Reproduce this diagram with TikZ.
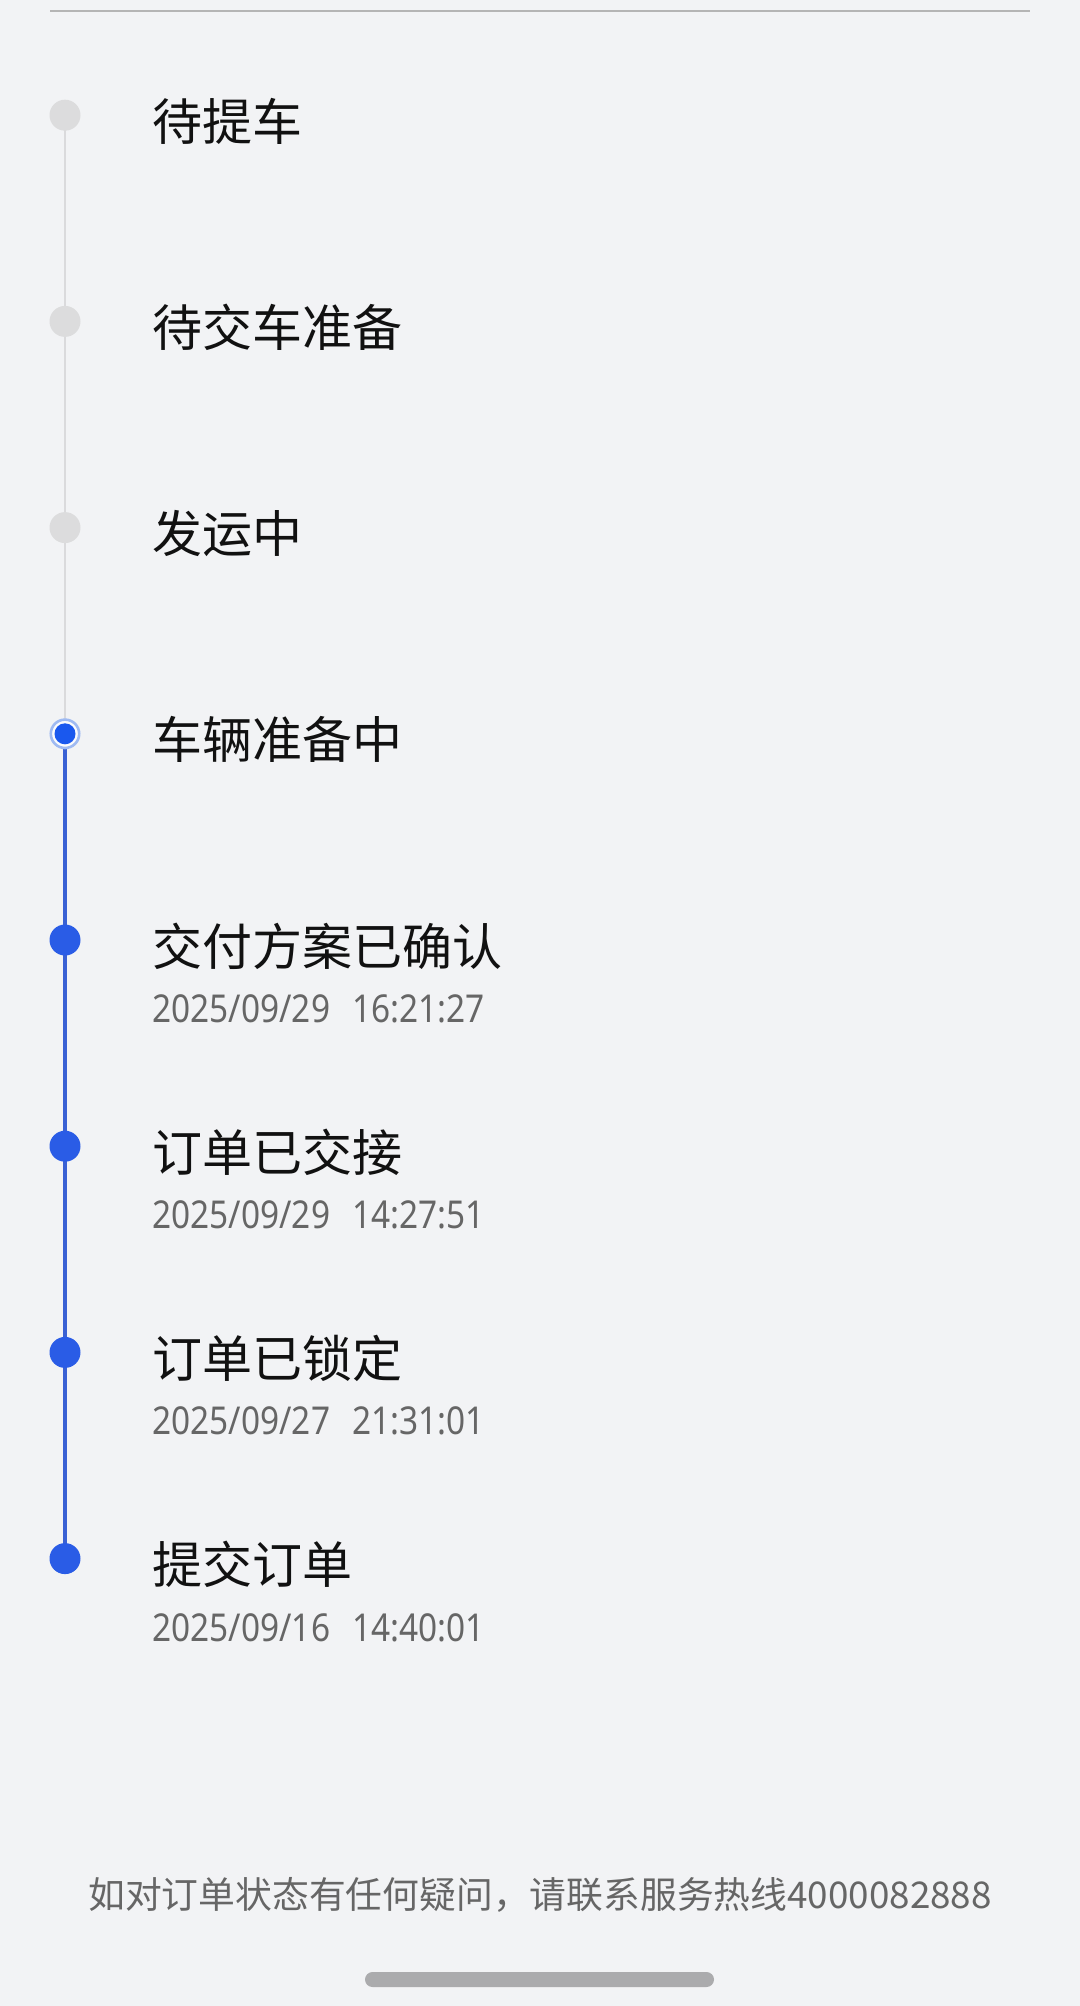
\documentclass[tikz,border=0pt]{standalone}
\usepackage{fontspec}
\setmainfont{Noto Sans CJK SC}
\newfontfamily\datefont[FakeStretch=0.87]{Noto Sans}
\newfontfamily\footfont{Noto Sans CJK SC}
\definecolor{bgc}{HTML}{F2F3F5}
\definecolor{toplinec}{HTML}{B5B5B5}
\definecolor{graydotc}{HTML}{DCDCDD}
\definecolor{graylinec}{HTML}{DADADC}
\definecolor{bluec}{HTML}{2A5CE6}
\definecolor{bluelinec}{HTML}{3A61D4}
\definecolor{ringc}{HTML}{9FBAF2}
\definecolor{activec}{HTML}{1A58EE}
\definecolor{titlec}{HTML}{111111}
\definecolor{datec}{HTML}{666666}
\definecolor{barc}{HTML}{ABABAD}
\newcommand{\dgap}{\hspace{11pt}}
\tikzset{
  graydot/.style={circle, fill=graydotc, minimum size=15.5pt, inner sep=0pt},
  bluedot/.style={circle, fill=bluec, minimum size=15.5pt, inner sep=0pt},
  activedot/.style={circle, fill=activec, minimum size=10.5pt, inner sep=0pt},
  grayline/.style={draw=graylinec, line width=1.3pt},
  blueline/.style={draw=bluelinec, line width=1.6pt},
  titletext/.style={anchor=base west, inner sep=0pt, text=titlec, font=\fontsize{25pt}{30pt}\selectfont},
  datetext/.style={anchor=base west, inner sep=0pt, text=datec, font=\datefont\fontsize{19.2pt}{23pt}\selectfont},
  foottext/.style={anchor=base, inner sep=0pt, text=datec, font=\footfont\fontsize{18.4pt}{22pt}\selectfont}
}
\begin{document}
\begin{tikzpicture}[x=0.5pt, y=-0.5pt]
\useasboundingbox (0,0) rectangle (1080,2006);
\fill[bgc] (0,0) rectangle (1080,2006);
% top separator
\coordinate (tl) at (50,11);
\coordinate (tr) at (1030,11);
\draw[toplinec, line width=1pt] (tl) -- (tr);
% dot positions
\coordinate (c1) at (65,115.2);
\coordinate (c2) at (65,321.4);
\coordinate (c3) at (65,527.6);
\coordinate (c4) at (65,733.8);
\coordinate (c5) at (65,940.0);
\coordinate (c6) at (65,1146.2);
\coordinate (c7) at (65,1352.4);
\coordinate (c8) at (65,1558.6);
% connectors
\draw[grayline] (c1) -- (c2);
\draw[grayline] (c2) -- (c3);
\draw[grayline] (c3) -- (c4);
\draw[blueline] (c4) -- (c5);
\draw[blueline] (c5) -- (c6);
\draw[blueline] (c6) -- (c7);
\draw[blueline] (c7) -- (c8);
% dots
\node[graydot] (d1) at (c1) {};
\node[graydot] (d2) at (c2) {};
\node[graydot] (d3) at (c3) {};
\draw[ringc, line width=1.3pt, fill=white!70!bgc] (c4) circle[radius=7.1pt];
\node[activedot] (d4) at (c4) {};
\node[bluedot] (d5) at (c5) {};
\node[bluedot] (d6) at (c6) {};
\node[bluedot] (d7) at (c7) {};
\node[bluedot] (d8) at (c8) {};
% titles
\node[titletext] (t1) at (152,140.2) {待提车};
\node[titletext] (t2) at (152,346.4) {待交车准备};
\node[titletext] (t3) at (152,552.6) {发运中};
\node[titletext] (t4) at (152,758.8) {车辆准备中};
\node[titletext] (t5) at (152,965.0) {交付方案已确认};
\node[titletext] (t6) at (152,1171.2) {订单已交接};
\node[titletext] (t7) at (152,1377.4) {订单已锁定};
\node[titletext] (t8) at (152,1583.6) {提交订单};
% dates
\node[datetext] (s5) at (152,1022.5) {2025/09/29\dgap16:21:27};
\node[datetext] (s6) at (152,1228.7) {2025/09/29\dgap14:27:51};
\node[datetext] (s7) at (152,1434.9) {2025/09/27\dgap21:31:01};
\node[datetext] (s8) at (152,1641.1) {2025/09/16\dgap14:40:01};
% footer
\node[foottext] (foot) at (540,1908) {如对订单状态有任何疑问，请联系服务热线4000082888};
% home indicator
\fill[barc, rounded corners=3.75pt] (365,1972) rectangle (714,1987);
\end{tikzpicture}
\end{document}
